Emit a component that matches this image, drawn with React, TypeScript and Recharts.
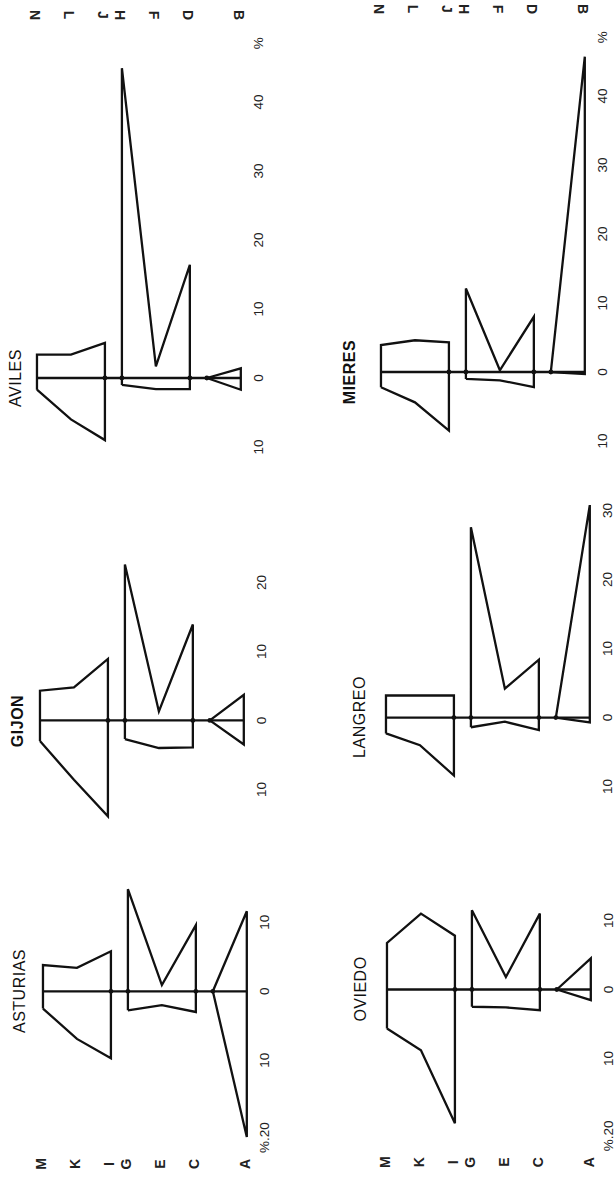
import React from "react";
import { ScatterChart, Scatter, XAxis, YAxis } from "recharts";

// filas del gráfico (letra izquierda / letra derecha) y su nivel sobre el eje
const FILAS = ["M", "K", "I", "G", "E", "C", "A"];
const FILAS_PAR = ["N", "L", "J", "H", "F", "D", "B"];
const NIVELES = [0, 2, 4, 5, 7, 9, 12];
const NIVEL_VERTICE = 10;

// % por fila (M,K,I,G,E,C,A): lado derecho e izquierdo
const asturiasDer = [3.8, 3.4, 5.8, 14.8, 0.9, 9.6, 11.6];
const asturiasIzq = [2.5, 6.9, 9.7, 2.75, 2.0, 3.0, 21.1];
const gijonDer = [4.3, 4.8, 8.9, 22.6, 1.3, 13.9, 3.7];
const gijonIzq = [3.0, 8.6, 13.9, 2.7, 4.0, 3.9, 3.5];
const avilesDer = [3.4, 3.4, 5.1, 44.9, 1.7, 16.4, 1.4];
const avilesIzq = [1.7, 6.0, 9.0, 1.0, 1.6, 1.6, 1.7];
const oviedoDer = [6.75, 11.0, 7.8, 11.5, 1.8, 11.0, 4.5];
const oviedoIzq = [5.65, 8.8, 19.4, 2.5, 2.6, 3.0, 1.55];
const langreoDer = [3.2, 3.2, 3.2, 27.6, 4.2, 8.4, 30.8];
const langreoIzq = [2.3, 4.0, 8.4, 1.4, 0.6, 1.8, 0.7];
const mieresDer = [3.9, 4.6, 4.3, 12.1, 0.25, 8.0, 45.7];
const mieresIzq = [2.2, 4.4, 8.5, 1.0, 1.2, 2.2, 0.3];

// escalas de porcentaje (negativo = lado izquierdo)
const ticksCorto = [-20, -10, 0, 10];
const etiquetasCorto = ["%.20", "10", "0", "10"];
const ticksGijon = [-10, 0, 10, 20];
const etiquetasGijon = ["10", "0", "10", "20"];
const ticksLangreo = [-10, 0, 10, 20, 30];
const etiquetasLangreo = ["10", "0", "10", "20", "30"];
const ticksLargo = [-10, 0, 10, 20, 30, 40, 48.5];
const etiquetasLargo = ["10", "0", "10", "20", "30", "40", "%"];

const PX = 6.9; // px por 1 %
const U = 17; // px por nivel
const FUENTE = "'Liberation Sans', Arial, sans-serif";

type Punto = { n: number; v: number };

function poligonos(der: number[], izq: number[]) {
  const bloque = (a: number, b: number, c: number): Punto[] => [
    { n: NIVELES[a], v: -izq[a] },
    { n: NIVELES[a], v: der[a] },
    { n: NIVELES[b], v: der[b] },
    { n: NIVELES[c], v: der[c] },
    { n: NIVELES[c], v: -izq[c] },
    { n: NIVELES[b], v: -izq[b] },
    { n: NIVELES[a], v: -izq[a] },
  ];
  return {
    alto: bloque(0, 1, 2),
    medio: bloque(3, 4, 5),
    base: [
      { n: NIVEL_VERTICE, v: 0 },
      { n: NIVELES[6], v: der[6] },
      { n: NIVELES[6], v: -izq[6] },
      { n: NIVEL_VERTICE, v: 0 },
    ],
    eje: [0, 4, 5, 9, 10, 12].map((n) => ({ n, v: 0 })),
  };
}

const linea = { stroke: "#111", strokeWidth: 2.3 };
const sinPunto = () => <g />;
const nudo = (p: any) =>
  p.payload && p.payload.n > 0 && p.payload.n < 12 ? <circle cx={p.cx} cy={p.cy} r={2.4} fill="#111" /> : <g />;

interface PanelProps {
  titulo: string;
  der: number[];
  izq: number[];
  ticks: number[];
  etiquetas: string[];
  dominio: [number, number];
  x0: number;
  cero: number;
  tituloX: number;
  letras?: "arriba" | "abajo";
  negrita?: boolean;
}

function Panel({ titulo, der, izq, ticks, etiquetas, dominio, x0, cero, tituloX, letras, negrita }: PanelProps) {
  const [lo, hi] = dominio;
  const ejeH = letras ? 30 : 0;
  const plotH = (hi - lo) * PX;
  const top = cero - hi * PX - (letras === "arriba" ? ejeH : 0);
  const left = x0 - 2 * U;
  const W = 248 + 18;
  const H = plotH + ejeH;
  const p = poligonos(der, izq);

  const tickY = (props: any) => {
    const { x, y, payload } = props;
    const i = ticks.indexOf(payload.value);
    const txt = etiquetas[i] ?? "";
    const largo = txt.startsWith("%.");
    return (
      <text
        x={x}
        y={y}
        dx={largo ? 7 : 0}
        transform={`rotate(-90, ${x}, ${y})`}
        textAnchor={largo ? "end" : "middle"}
        dominantBaseline="central"
        fontSize={13.5}
        fontFamily={FUENTE}
        fill="#222"
      >
        {txt}
      </text>
    );
  };

  const tickX = (props: any) => {
    const { x, y, payload } = props;
    const i = NIVELES.indexOf(payload.value);
    const arriba = letras === "arriba";
    const txt = arriba ? FILAS_PAR[i] : FILAS[i];
    const yy = arriba ? y - 10 : y + 6;
    return (
      <text
        x={x - 2}
        y={yy}
        transform={`rotate(${arriba ? 90 : -90}, ${x - 2}, ${yy})`}
        textAnchor="middle"
        dominantBaseline="central"
        fontSize={14}
        fontWeight="bold"
        fontFamily={FUENTE}
        fill="#222"
      >
        {txt}
      </text>
    );
  };

  return (
    <>
      <div style={{ position: "absolute", left, top, width: W, height: H }}>
        <ScatterChart width={W} height={H} margin={{ top: 0, right: 0, bottom: 0, left: 0 }}>
          <XAxis
            type="number"
            dataKey="n"
            domain={[-2, 12.6]}
            ticks={NIVELES}
            interval={0}
            hide={!letras}
            orientation={letras === "arriba" ? "top" : "bottom"}
            height={30}
            axisLine={false}
            tickLine={false}
            tick={tickX}
            allowDataOverflow
          />
          <YAxis
            type="number"
            dataKey="v"
            domain={[lo, hi]}
            ticks={ticks}
            interval={0}
            orientation="right"
            width={18}
            axisLine={false}
            tickLine={false}
            tick={tickY}
            allowDataOverflow
          />
          <Scatter data={p.alto} line={linea} lineType="joint" shape={sinPunto} isAnimationActive={false} />
          <Scatter data={p.medio} line={linea} lineType="joint" shape={sinPunto} isAnimationActive={false} />
          <Scatter data={p.base} line={linea} lineType="joint" shape={sinPunto} isAnimationActive={false} />
          <Scatter data={p.eje} line={linea} lineType="joint" shape={nudo} isAnimationActive={false} />
        </ScatterChart>
      </div>
      <div
        style={{
          position: "absolute",
          left: tituloX,
          top: cero,
          transform: "translate(-50%, -50%) rotate(-90deg)",
          whiteSpace: "nowrap",
          fontFamily: FUENTE,
          fontSize: 16,
          fontWeight: negrita ? "bold" : "normal",
          color: "#111",
          letterSpacing: 0.5,
        }}
      >
        {titulo}
      </div>
    </>
  );
}

export default function App() {
  return (
    <div style={{ position: "absolute", left: 0, top: 0, width: 616, height: 1182, overflow: "hidden", background: "#fff" }}>
      <Panel titulo="AVILES" der={avilesDer} izq={avilesIzq} ticks={ticksLargo} etiquetas={etiquetasLargo}
        dominio={[-12, 50]} x0={37} cero={378.3} tituloX={16} letras="arriba" />
      <Panel titulo="GIJON" der={gijonDer} izq={gijonIzq} ticks={ticksGijon} etiquetas={etiquetasGijon}
        dominio={[-16, 26]} x0={40} cero={720.7} tituloX={18} negrita />
      <Panel titulo="ASTURIAS" der={asturiasDer} izq={asturiasIzq} ticks={ticksCorto} etiquetas={etiquetasCorto}
        dominio={[-23, 17]} x0={43} cero={991.3} tituloX={20} letras="abajo" />
      <Panel titulo="MIERES" der={mieresDer} izq={mieresIzq} ticks={ticksLargo} etiquetas={etiquetasLargo}
        dominio={[-12, 50]} x0={381} cero={371.7} tituloX={350} letras="arriba" negrita />
      <Panel titulo="LANGREO" der={langreoDer} izq={langreoIzq} ticks={ticksLangreo} etiquetas={etiquetasLangreo}
        dominio={[-14, 34]} x0={386} cero={717.3} tituloX={360} />
      <Panel titulo="OVIEDO" der={oviedoDer} izq={oviedoIzq} ticks={ticksCorto} etiquetas={etiquetasCorto}
        dominio={[-23, 15]} x0={387} cero={989.3} tituloX={361} letras="abajo" />
    </div>
  );
}
